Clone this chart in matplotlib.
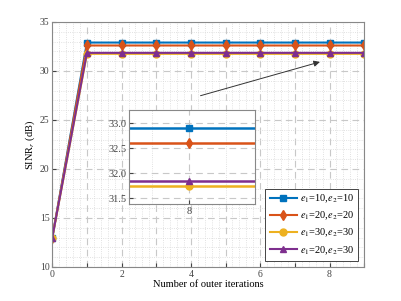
import numpy as np
import matplotlib.pyplot as plt
from matplotlib.ticker import MultipleLocator, FixedLocator, FuncFormatter

plt.rcParams['font.family'] = 'Liberation Serif'
plt.rcParams['mathtext.fontset'] = 'stix'

iters = np.arange(0, 10)
s1 = [13.0, 32.9, 32.9, 32.9, 32.9, 32.9, 32.9, 32.9, 32.9, 32.9]
s2 = [13.0, 32.6, 32.6, 32.6, 32.6, 32.6, 32.6, 32.6, 32.6, 32.6]
s3 = [13.0, 31.75, 31.75, 31.75, 31.75, 31.75, 31.75, 31.75, 31.75, 31.75]
s4 = [13.0, 31.85, 31.85, 31.85, 31.85, 31.85, 31.85, 31.85, 31.85, 31.85]
labels = ['$e_1$=10,$e_2$=10', '$e_1$=20,$e_2$=20',
          '$e_1$=30,$e_2$=30', '$e_1$=20,$e_2$=30']
colors = ['#0072BD', '#D95319', '#EDB120', '#7E2F8E']
markers = ['s', 'd', 'o', '^']
series = [s1, s2, s3, s4]

fig = plt.figure(figsize=(4.02, 3.01), dpi=100)
ax = fig.add_axes([0.13, 0.113, 0.776, 0.814])

for y, c, m, lb in zip(series, colors, markers, labels):
    ax.plot(iters, y, color=c, marker=m, lw=1.5, ms=5,
            markerfacecolor=c, markeredgecolor=c, label=lb)

ax.set_xlim(0, 9)
ax.set_ylim(10, 35)
ax.xaxis.set_major_locator(MultipleLocator(1))
ax.xaxis.set_major_formatter(FuncFormatter(lambda v, p: '%d' % v if int(round(v)) % 2 == 0 else ''))
ax.yaxis.set_major_locator(MultipleLocator(5))
ax.xaxis.set_minor_locator(MultipleLocator(0.2))
ax.yaxis.set_minor_locator(MultipleLocator(1))
ax.grid(True, which='major', ls=(0, (6, 4)), color='#c8c8c8', lw=0.8)
ax.grid(True, which='minor', ls=':', color='#d8d8d8', lw=0.6)
ax.tick_params(labelsize=7, direction='in', length=3, colors='#444444', pad=2)
ax.tick_params(which='minor', length=0)
for sp in ax.spines.values():
    sp.set_color('#888888')
ax.set_xlabel('Number of outer iterations', fontsize=7.5, labelpad=1)
ax.set_ylabel('SINR$_r$ (dB)', fontsize=7.5, labelpad=2)
ax.set_axisbelow(True)

leg = ax.legend(loc='lower right', fontsize=7.5, fancybox=False,
                edgecolor='#444444', framealpha=1, handlelength=2.6,
                borderaxespad=0.6, labelspacing=0.45, handletextpad=0.3,
                borderpad=0.4)
leg.get_frame().set_linewidth(0.7)

ax.annotate('', xy=(7.8, 31.0), xytext=(4.2, 27.4),
            arrowprops=dict(arrowstyle='-|>', color='#333333', lw=0.7,
                            mutation_scale=9))

ins = fig.add_axes([0.321, 0.322, 0.313, 0.312])
for y, c, m in zip(series, colors, markers):
    ins.plot(iters, y, color=c, marker=m, lw=1.8, ms=5,
             markerfacecolor=c, markeredgecolor=c)
ins.set_xlim(7.43, 8.63)
ins.set_ylim(31.38, 33.26)
ins.set_xticks([8])
ins.set_yticks([31.5, 32.0, 32.5, 33.0])
ins.yaxis.set_major_formatter(plt.FormatStrFormatter('%.1f'))
ins.xaxis.set_minor_locator(FixedLocator([7.65, 8.35]))
ins.grid(True, which='major', ls=(0, (6, 4)), color='#c8c8c8', lw=0.8)
ins.grid(True, which='minor', axis='x', ls=':', color='#d8d8d8', lw=0.6)
ins.tick_params(labelsize=7.5, direction='in', length=3, colors='#444444', pad=2)
ins.tick_params(which='minor', length=0)
for sp in ins.spines.values():
    sp.set_color('#888888')
ins.set_axisbelow(True)

fig.savefig('out.png', dpi=100)
